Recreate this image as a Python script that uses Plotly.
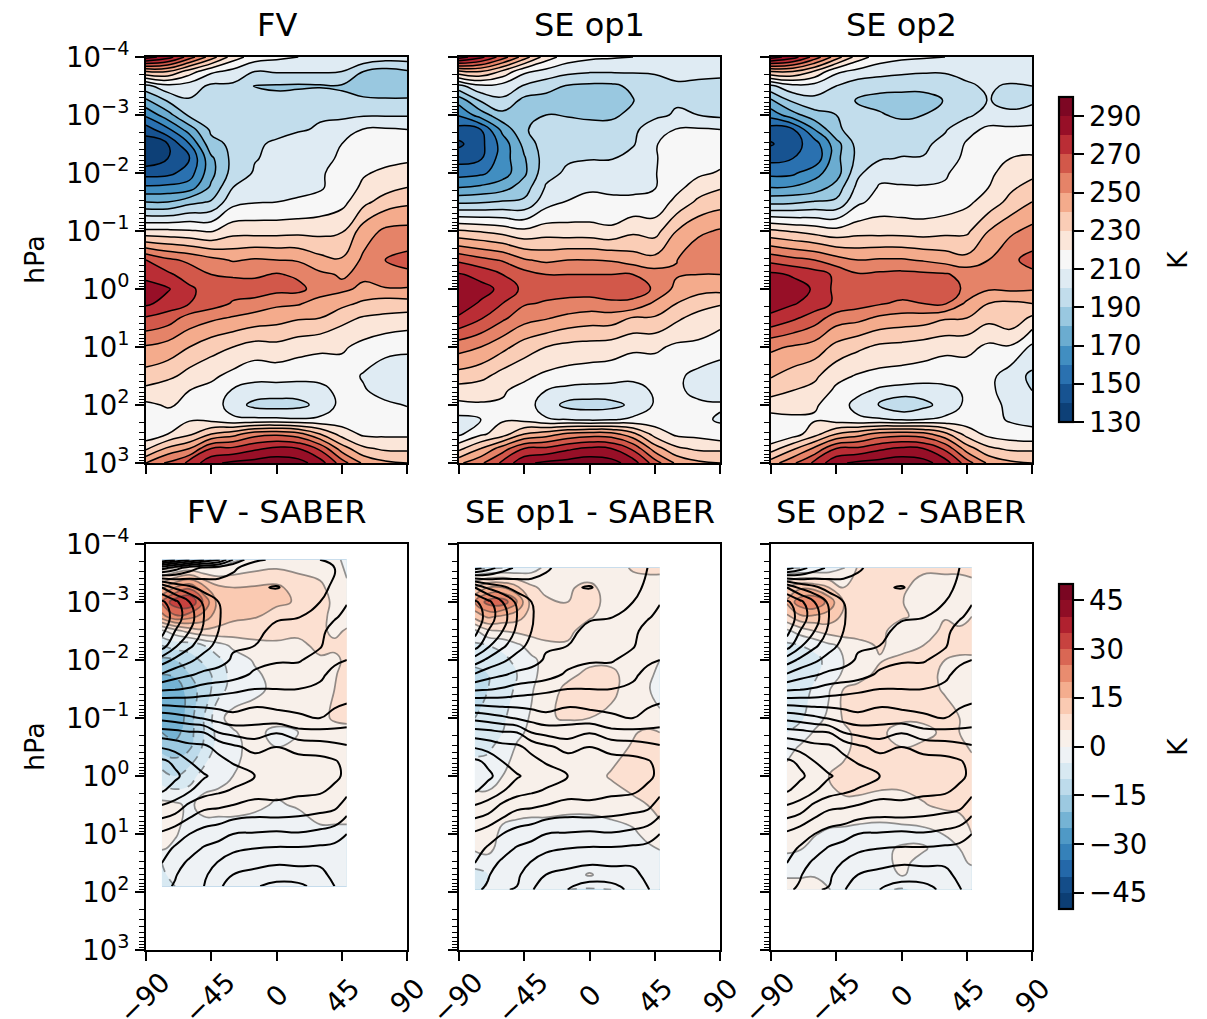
import numpy as np
import plotly.graph_objects as go

# ---------- data ----------
lat_top = [-90,-75,-60,-45,-30,-15,0,15,30,45,60,75,90]
logp_top = [-4,-3.75,-3.5,-3.25,-3,-2.5,-2,-1.5,-1,-0.5,0,0.5,1,1.5,1.75,2,2.25,2.5,2.75,3]

# each inner list: one latitude column, from top (logp=-4) to bottom (logp=3)
fv_cols = [
 [295,240,197,178,162,134,146,180,222,270,287,269,249,236,227,218,212,213,228,250],
 [285,240,207,191,176,140,147,180,222,262,281,265,246,233,222,221,216,220,242,262],
 [265,225,205,199,192,160,155,187,221,258,272,256,240,226,220,218,219,228,250,272],
 [245,212,198,195,192,187,177,191,219,253,265,252,234,222,217,216,217,240,270,288],
 [225,207,198,195,195,192,194,207,226,249,264,249,230,217,209,205,212,246,272,292],
 [215,200,189.5,195,196,199,201,209.5,226,251,266,246,226,213,206,197,212,256,278,294],
 [212,201,189,192,196,201,203,210,226,250,263,244,227,214,205,196,212,258,282,296],
 [210,201,188.5,195,197,205,206,210.5,227,249,263,241,224,213,205,197,211,254,280,294],
 [209,201,189,197,199,206,209,213,227,243,255,240,222,213,207,203,212,240,268,285],
 [207,200,189,192,198,210,213,217,229,241,252,233,221.5,215,213,213,214,226,245,265],
 [208,190,187,191,199,212,219,227,245,252,248,229,217,209,211,213,214,218,232,248],
 [205,186,185,191,199,213,222,235,252,260,249,228,213,205,206,212,215,218,228,242],
 [205,189,185,191,199,212,225,238,253,263,249,226,212,204,206,209.5,214,218,228,240],
]
se1_cols = [
 [295,238,197,174,161,138,156,188,231,268,287,279,254,236,225,218,207,208,227,248],
 [283,240,208,191,175,147,158,189,229,263,283,271,250,233,224,219,210,218,240,258],
 [265,228,206,198,187,164,165,191,226,259,278,262,243,226,221,219,219,225,255,272],
 [245,212,199,187,189,183,178,192,222,251,267,254,235,222,217,215,217,240,270,288],
 [225,207,194,186,190,196,197,206,225,248,264,251,230,218,210,205,211,245,272,292],
 [215,203,189,185,189,196,201.5,210.5,224,250,263,247,227,216,207,197,210,252,278,294],
 [212,201,188,183,187,196,204,211,224,250,265,245,226,215,206,196,208,255,282,296],
 [211,201,188,184,187,197,205,212,222,249,266,245,225,214,206,197,209,254,280,294],
 [210,201,192,189.5,194,199,206,212,228,245,264,239,222,212,207,202,212,243,268,285],
 [209,201,196,196,198,209.5,209.5,213,226,243,259,239,222,213,211,211,214,226,245,265],
 [208,204,198,199,201,213,215,223,240,249.7,247,232,218,212,212,213,214,218,232,248],
 [207,206,195,195,200,213,218,232,248,257,243,226,218,207,207,212,212,217,228,242],
 [207,205,194,191,198,213,221,236,251,258,243,224,214,205,206,211,209,213,228,240],
]
se2_cols = [
 [295,240,198,178,164,139,157,187,232,267,287,278,252,241,233,226,215,210,225,245],
 [285,240,207,192,176,146,158,188,229,263,284,272,249,236,230,224,218,215,238,258],
 [266,229,206,197,186,155,167,191,226,260,279,265,246,232,227,221,219,226,252,272],
 [245,212,200,196,190,176,175,192,223,254,267,255,237,223,218,216,215,240,270,288],
 [225,207,194,189,193,194,198,208,226,250,266,253,232,219,213,206,212,246,272,292],
 [215,204,193,187,191,197,207,214,226,251,265,248,228,217,208,199,211,254,278,294],
 [212,202,193,186,188,197,206,213,226,251,266,246,227,216,206,192,209,256,282,296],
 [211,201,193,186,190,198,205,213,225,249,266,245,225,215,205,197,210,254,280,294],
 [210,201,194,190.5,194,203,209,214,227,246,265,241,223,213,208,204,212,243,268,285],
 [209,202,199,194,198,211,214,218,228,243,258,240,223,214,211,212,214,226,245,265],
 [208,204,201,200.5,204,212,219,224,240,250,251,233,218,213,212,213,213,217,232,248],
 [207,205,199,197,202,213,222,233,248,258,252,237,219,205,206,208,209,214,228,242],
 [207,205,200,198,205,217,227,240,253,263,251,228,208,198,200,205,208,212,228,240],
]
# further pressure rows read between the ones above: one value per latitude
fv_rows = {
 -2.75:[145,158,175,192,194,197,198,199,201,205,210.5,211,210],
 -2.25:[133,140,150,178,193,199.5,202,206,208,211,215,217,218],
 -1.75:[162,163,165,182,200,205,207,209,209,214,222,226,230],
 -0.25:[275,272,265,260,259,258,261,258,252,249,252,258,258],
  0.25:[282,276,270,265,259,256,252,251,246,243,238,235,236],
}
se1_rows = {
 -2.75:[146,150,173,189,194,196,196,196,198,205,210.5,211,210],
 -2.25:[146,149,165,179,195,199,199.5,199.5,204,209.5,213,215,217],
 -1.75:[170,172,176,185,201,207,209.5,208,208,209.5,217,225,229],
 -0.25:[281,277,270,264,260,260,260,260,260,255,251,250,250],
  0.25:[284,279,270,261,259,258,256,258,258,248,240,235,231],
}
se2_rows = {
 -2.75:[145,149,170,188,195,196,195,196,199,207,212,212,212],
 -2.25:[147,150,152,177,193,199,200.5,200.5,206,212,216,220,221],
 -1.75:[170,171,174,184,203,211,211,211,211,217,220,228,234],
 -0.25:[282,279,275,268,261,262,263,262,261,257,252,257,258],
  0.25:[284,281,276,268,264,261,258,260,261,248,240,238,240],
}

lat_diff = [-79,-70,-60,-50,-40,-30,-15,0,15,30,40,48.5]
logp_diff_fv = [-3.73,-3.25,-3,-2.75,-2.5,-2.25,-2,-1.75,-1.5,-1,-0.75,-0.5,0,0.5,1,1.25,1.5,1.7,1.9]
logp_diff_se = [-3.59,-3.25,-3,-2.75,-2.5,-2.25,-2,-1.75,-1.5,-1,-0.75,-0.5,0,0.5,1,1.25,1.5,1.7,1.96]

# each inner list: one pressure row, from lat -79 to lat 48.5
diff_fv = [
 [-8,-8,-7,-6,-4,-1,1,2,2,2,1,-1],
 [14,20,24,16,11,10,10.5,11,8,6,3,0.5],
 [26,33,35,24,13,12,11.5,11,9.5,7,4,3],
 [18,24,22,18,12,11,10.5,8,6,6,4,3],
 [-1,3,7,9,9,8,6.5,6,6,6,4,5.5],
 [-10,-8,-8,-5,-2,1,4,4.5,4,6,6,6],
 [-16,-15,-12,-9,-6,-2.5,0.5,3,4,4.5,4,6],
 [-20,-19,-15,-12,-8,-3,-0.7,1.5,2,3,4.5,7],
 [-25,-24,-17,-13,-7,-3,-1,1,2,3,5,7],
 [-22,-25,-17,-10,-1,1.5,2,3,3,3,6,7],
 [-20,-22,-17,-10,-3,-0.5,2,-2,0,2,2,2],
 [-17,-18,-16,-9,-3,-1.5,2,0,1,2,2,2],
 [-8,-10,-7,-3,-1.5,0,2,2,2,1,2,2],
 [1.5,1,-1,2,2,2,1,-0.5,0.5,2,2,2],
 [1.5,0.5,-2,-3,-3,-3,-3,-3,-3,-1,-1,-1],
 [0.5,-1,-3,-3,-3,-3,-3,-3,-3,-3,-3,-3],
 [-5,-3,-3,-3,-3,-3,-3,-3,-3,-3,-3,-3],
 [-5.5,-4,-3,-3,-3,-3,-3,-3,-3,-3,-3,-3],
 [-7,-5,-3,-3,-3,-3,-3,-3,-3,-3,-3,-3],
]
diff_se1 = [
 [-6,-6,-5,-4,-2,1,2,2,3,5.5,6,6],
 [10,15,15,11,6,3.5,4.5,6,3,3,3,3],
 [20,27,28,20,8,6,5,7,3,3,3,3],
 [12,16,14,12,8,6,6,5.5,3,3,3,3],
 [-1,4,5,6,7,6,6,3,3,3,3,3],
 [-6,-5,-4,-1,2,4.5,4.5,3,3,3,3,3],
 [-9,-8,-6,-4,-1,1.5,3,4,4,3,2,0],
 [-11,-10,-8,-5,-1,1.5,4,6,6,3,1,-1],
 [-11,-10,-8,-4,-0.5,3,6,6.5,6,3,0.5,-2],
 [-10,-9,-6,-2,0.5,4.5,5.5,5,4,2,2,1],
 [-8,-7,-5,-1,1,2,2,2,2.5,4.5,6,5],
 [-6,-6,-3,0.5,1.5,2,2,2,3,5.5,6.5,7],
 [-3,-2,0,1.5,2,2,3,3,5.5,8,8,7],
 [3,2,2,2,1.5,1.5,1,1,2,3.5,5,7],
 [4,2,-1,-2,-2,-2,-2,-2,-2,-1,1.5,3],
 [1,1,-1.5,-2.5,-2.5,-2.5,-2.5,-2.5,-2.5,-2,-1,0.3],
 [-4.5,-1.5,-3,-3,-3,-3,-3,-3,-3,-3,-3,-2.5],
 [-5.5,-5,-3,-3,-3,-3,-2.5,0.5,-2.5,-3,-3,-3],
 [-7,-4,-3,-3,-3,-3,-5,-5.5,-5,-3,-3,-3],
]
diff_se2 = [
 [-5,-5,-4,-3,-0.5,5.5,6,6,6,6,6,6],
 [10,14,13,10,5,6,6,6,3,3,3,4],
 [16,23,25,18,10,7,7,5.2,3,3,3,4],
 [9,14,14,13,9,7,7,5.5,4,4.7,3,5],
 [-1,2,5,7,8,7,6,3,3,6,6,6],
 [-6,-5,-4,-1,1,3.5,5.5,3.5,5,6,6,6],
 [-8,-7,-6,-4,0,2,4.7,6,6,5,4.5,4.5],
 [-9,-8,-6,-2,0.5,3.5,6,6,6,4.5,3,3],
 [-9,-8,-4,-0.5,5,6,6,6,6,4.7,3,3],
 [-8,-6,-2,1,5.5,6,6,6,6,6,5,3.5],
 [-5,-3,0.5,2,4,6,6,3,3.5,6,5,3.5],
 [-2,0.5,2,2,4,6,6,5,6,6,6,4.5],
 [2,2,2,5.2,6,7,7,7,7,7,7,7],
 [1,1,1,4,4.5,4,3,3,4.7,6,6,6],
 [1,1.5,0.3,-1,-1.5,-2,-2,-1.5,-1.5,0.2,2.5,5],
 [0.5,0.3,-1.5,-2,-2,-2,-1,0.5,0.5,-2,0,2],
 [-1,-2,-3,-3,-3,-3,-1.5,1,-1.5,-2.5,-1,0.5],
 [-0.3,-0.3,-0.2,-1.5,-3,-3,-3,0.5,-2,-3,-3,-2],
 [1,1,1,0.3,-3,-3,-4,-5.5,-4,-3,-3,-3],
]

logp_saber = [-3.73,-3.59,-3.25,-3,-2.75,-2.5,-2.25,-2,-1.75,-1.5,-1,-0.75,-0.5,0,0.5,1,1.25,1.5,1.7,1.9,1.96]
# each inner list: one latitude column, from top to bottom
saber_cols = [
 [270,225,160,138,132,137,145,165,181,198,237,254,269,288,270,248,243,240,236,233,232],
 [260,215,172,147,145,150,158,172,186,199,235,253,266,282,267,244,239,234,231,229,228],
 [250,205,178,160,155,160,168,178,189,201,232,251,263,276,258,240,234,228,224,222,221],
 [240,198,184,172,170,172,176,184,192,204,229,250,262,271,253,236,229,226,222,220,219],
 [232,195,186,180,179,180,183,187,193,206,226,240,257,267,252,234,226,219,214,212,211],
 [210,191,187,186,186,187,189,191,195,208,223,237,252,265,250,230,222,215,210,205,204],
 [191,187,181,184,187,188,190,196,202,210,226,234.5,247,260,248,229,220,212,208,201,200],
 [189,186,179.5,186,189,192,195,199,204,210,224,239.5,250,257,249,228,219,211,205,197,196],
 [189.5,186,183,187,189.5,194,197,199,205,210,222,233,247,256,247,229,219,212,205,198,197],
 [190,187,187,190,194,198,199,204,208,212,220,233,245,256,245,227,218,211,208,203,202],
 [193,190,192,196,199,203,206,208,213,216,222,233,243,252,243,225,217,214,212,210,209.5],
 [197,192,195,199.5,202,205,207,210,214,217,223,234,241,248,236,220,218,216,214,213,213],
]
saber_rows = {
 -0.25:[282,278,270,265,263,259,254,253,253,253,251,247],
  0.25:[281,276,271,265,262,259,253,252,252,251.5,248,243],
}

titles = ["FV","SE op1","SE op2","FV - SABER","SE op1 - SABER","SE op2 - SABER"]
x_ticks = [-90,-45,0,45,90]
x_tick_text = ["\u221290","\u221245","0\u00a0\u00a0","45\u00a0","90\u00a0"]
y_tick_exp = [-4,-3,-2,-1,0,1,2,3]
t_ticks = [130,150,170,190,210,230,250,270,290]
d_ticks = [-45,-30,-15,0,15,30,45]

# ---------- helpers ----------
RDBU = ['#053061','#2166ac','#4393c3','#92c5de','#d1e5f0','#f7f7f7','#fddbc7','#f4a582','#d6604d','#b2182b','#67001f']
def cmap(f):
    p = f*(len(RDBU)-1); i = min(int(p), len(RDBU)-2); t = p-i
    a = [int(RDBU[i][k:k+2],16) for k in (1,3,5)]
    b = [int(RDBU[i+1][k:k+2],16) for k in (1,3,5)]
    return 'rgb(%d,%d,%d)' % tuple(round(u+(v-u)*t) for u,v in zip(a,b))

def band_scale(start, end, size):
    n = int(round((end-start)/size))
    lo, hi = start-size/2, end+size/2
    s = []
    for i in range(n):
        c = start+(i+0.5)*size
        s.append([(c-lo)/(hi-lo), cmap((i+0.5)/n)])
    return [[0, s[0][1]]]+s+[[1, s[-1][1]]]

def merged(lps, rows2d, extra):
    items = dict(zip(lps, [list(r) for r in rows2d]))
    items.update(extra)
    keys = sorted(items)
    return keys, np.array([items[k] for k in keys], dtype=float)

W, H = 1207, 1019
FONT = "DejaVu Sans"
xpx = [(146,407),(459,720),(771,1032)]
ypx = [(57,463),(544,950)]
fig = go.Figure()

def P(lp): return [10**v for v in lp]

def colorbar(y0,y1,ticks):
    return dict(lenmode='pixels', len=y1-y0, thickness=14, thicknessmode='pixels',
                x=1059/W, xanchor='left', xpad=0, y=1-(y0+y1)/2/H, yanchor='middle', ypad=0,
                outlinewidth=2.2, outlinecolor='black', tickmode='array', tickvals=ticks,
                ticks='outside', ticklen=10, tickwidth=1.8, tickcolor='black',
                tickfont=dict(family=FONT,size=27.5,color='black'))

tscale = band_scale(130,300,10)
dscale = band_scale(-50,50,5)
# panels: the level below the first band never occurs, keep it pale so region edges do not bleed dark
PALE = 'rgb(245,245,245)'
dscale_panel = [[0,PALE],[2.5/105,PALE]]+dscale[1:]
SM = 1.3

for i,(cols,extra) in enumerate([(fv_cols,fv_rows),(se1_cols,se1_rows),(se2_cols,se2_rows)]):
    lp, z = merged(logp_top, np.array(cols).T.tolist(), extra)
    ax = dict(xaxis='x%d'%(i+1), yaxis='y%d'%(i+1))
    fig.add_trace(go.Contour(x=lat_top,y=P(lp),z=z,colorscale=tscale,zmin=130,zmax=300,
        contours=dict(start=130,end=300,size=10,coloring='fill',showlines=False),line=dict(width=0,smoothing=SM),
        showscale=(i==2),colorbar=colorbar(97,422,t_ticks),hoverinfo='skip',**ax))
    fig.add_trace(go.Contour(x=lat_top,y=P(lp),z=z,showscale=False,
        contours=dict(start=130,end=300,size=10,coloring='none'),line=dict(color='black',width=1.5,smoothing=SM),
        hoverinfo='skip',**ax))

ls_all, saber = merged(logp_saber, np.array(saber_cols).T.tolist(), saber_rows)
sets = [(diff_fv,logp_diff_fv,saber[:-1],ls_all[:-1]),
        (diff_se1,logp_diff_se,saber[1:],ls_all[1:]),
        (diff_se2,logp_diff_se,saber[1:],ls_all[1:])]
for i,(d,lp,s,ls) in enumerate(sets):
    ax = dict(xaxis='x%d'%(i+4), yaxis='y%d'%(i+4))
    z = np.array(d)
    fig.add_trace(go.Contour(x=lat_diff,y=P(lp),z=z,colorscale=dscale_panel,zmin=-50,zmax=50,
        contours=dict(start=-50,end=50,size=5,coloring='fill',showlines=False),line=dict(width=0,smoothing=SM),
        showscale=False,hoverinfo='skip',**ax))
    fig.add_trace(go.Contour(x=lat_diff,y=P(lp),z=z,showscale=False,
        contours=dict(start=0,end=50,size=5,coloring='none'),line=dict(color='rgba(60,60,60,0.55)',width=1.7,smoothing=SM),
        hoverinfo='skip',**ax))
    fig.add_trace(go.Contour(x=lat_diff,y=P(lp),z=z,showscale=False,
        contours=dict(start=-50,end=-5,size=5,coloring='none'),line=dict(color='rgba(60,60,60,0.55)',width=1.7,dash='dash',smoothing=SM),
        hoverinfo='skip',**ax))
    fig.add_trace(go.Contour(x=lat_diff,y=P(ls),z=s,showscale=False,
        contours=dict(start=130,end=300,size=10,coloring='none'),line=dict(color='black',width=2,smoothing=SM),
        hoverinfo='skip',**ax))

# colour key of the difference panels (its cells lie outside the axis range)
fig.add_trace(go.Contour(x=[200,201],y=[1,10],z=[[-50,50],[-50,50]],colorscale=dscale,zmin=-50,zmax=50,
    contours=dict(start=-50,end=50,size=5,coloring='fill',showlines=False),line=dict(width=0),
    showscale=True,colorbar=colorbar(584,909,d_ticks),hoverinfo='skip',xaxis='x6',yaxis='y6'))

minor_vals = [m*10.0**e for e in y_tick_exp[:-1] for m in range(2,10)]
layout = {}
ann = []
for r,(y0,y1) in enumerate(ypx):
    for c,(x0,x1) in enumerate(xpx):
        k = r*3+c+1
        layout['xaxis%d'%k] = dict(domain=[x0/W,x1/W],range=[-90,90],anchor='y%d'%k,
            tickmode='array',tickvals=x_ticks,ticktext=x_tick_text,ticks='outside',ticklen=9,tickwidth=1.8,tickcolor='black',
            showgrid=False,zeroline=False,showline=True,mirror=True,linecolor='black',linewidth=2.2,
            showticklabels=(r==1),tickangle=-45,ticklabelshift=16,ticklabelstandoff=-6,
            tickfont=dict(family=FONT,size=27.5,color='black'))
        layout['yaxis%d'%k] = dict(domain=[1-y1/H,1-y0/H],type='log',range=[3,-4],anchor='x%d'%k,
            tickmode='array',tickvals=[10.0**e for e in y_tick_exp],
            ticktext=['10<sup>%s</sup>'%str(e).replace('-','\u2212') for e in y_tick_exp],
            ticks='outside',ticklen=9,tickwidth=1.8,tickcolor='black',
            minor=dict(tickmode='array',tickvals=minor_vals,ticks='outside',ticklen=5,tickwidth=1.4,tickcolor='black',showgrid=False),
            showgrid=False,zeroline=False,showline=True,mirror=True,linecolor='black',linewidth=2.2,
            showticklabels=(c==0),tickfont=dict(family=FONT,size=27.5,color='black'))
        ann.append(dict(text=titles[k-1],x=(x0+x1)/2/W,y=1-(y0-32)/H,xref='paper',yref='paper',showarrow=False,
            xanchor='center',yanchor='middle',font=dict(family=FONT,size=32,color='black')))
    ann.append(dict(text='hPa',x=34/W,y=1-(y0+y1)/2/H,xref='paper',yref='paper',showarrow=False,textangle=-90,
        xanchor='center',yanchor='middle',font=dict(family=FONT,size=27,color='black')))
ann.append(dict(text='K',x=1177/W,y=1-260/H,xref='paper',yref='paper',showarrow=False,textangle=-90,
    xanchor='center',yanchor='middle',font=dict(family=FONT,size=27,color='black')))
ann.append(dict(text='K',x=1177/W,y=1-747/H,xref='paper',yref='paper',showarrow=False,textangle=-90,
    xanchor='center',yanchor='middle',font=dict(family=FONT,size=27,color='black')))

fig.update_layout(width=W,height=H,autosize=False,margin=dict(l=0,r=0,t=0,b=0,autoexpand=False),
    paper_bgcolor='white',plot_bgcolor='white',showlegend=False,annotations=ann,**layout)
fig.write_html("out.html",config={'displayModeBar':False},
    post_script="document.body.style.margin='0';document.documentElement.style.overflow='hidden';")
